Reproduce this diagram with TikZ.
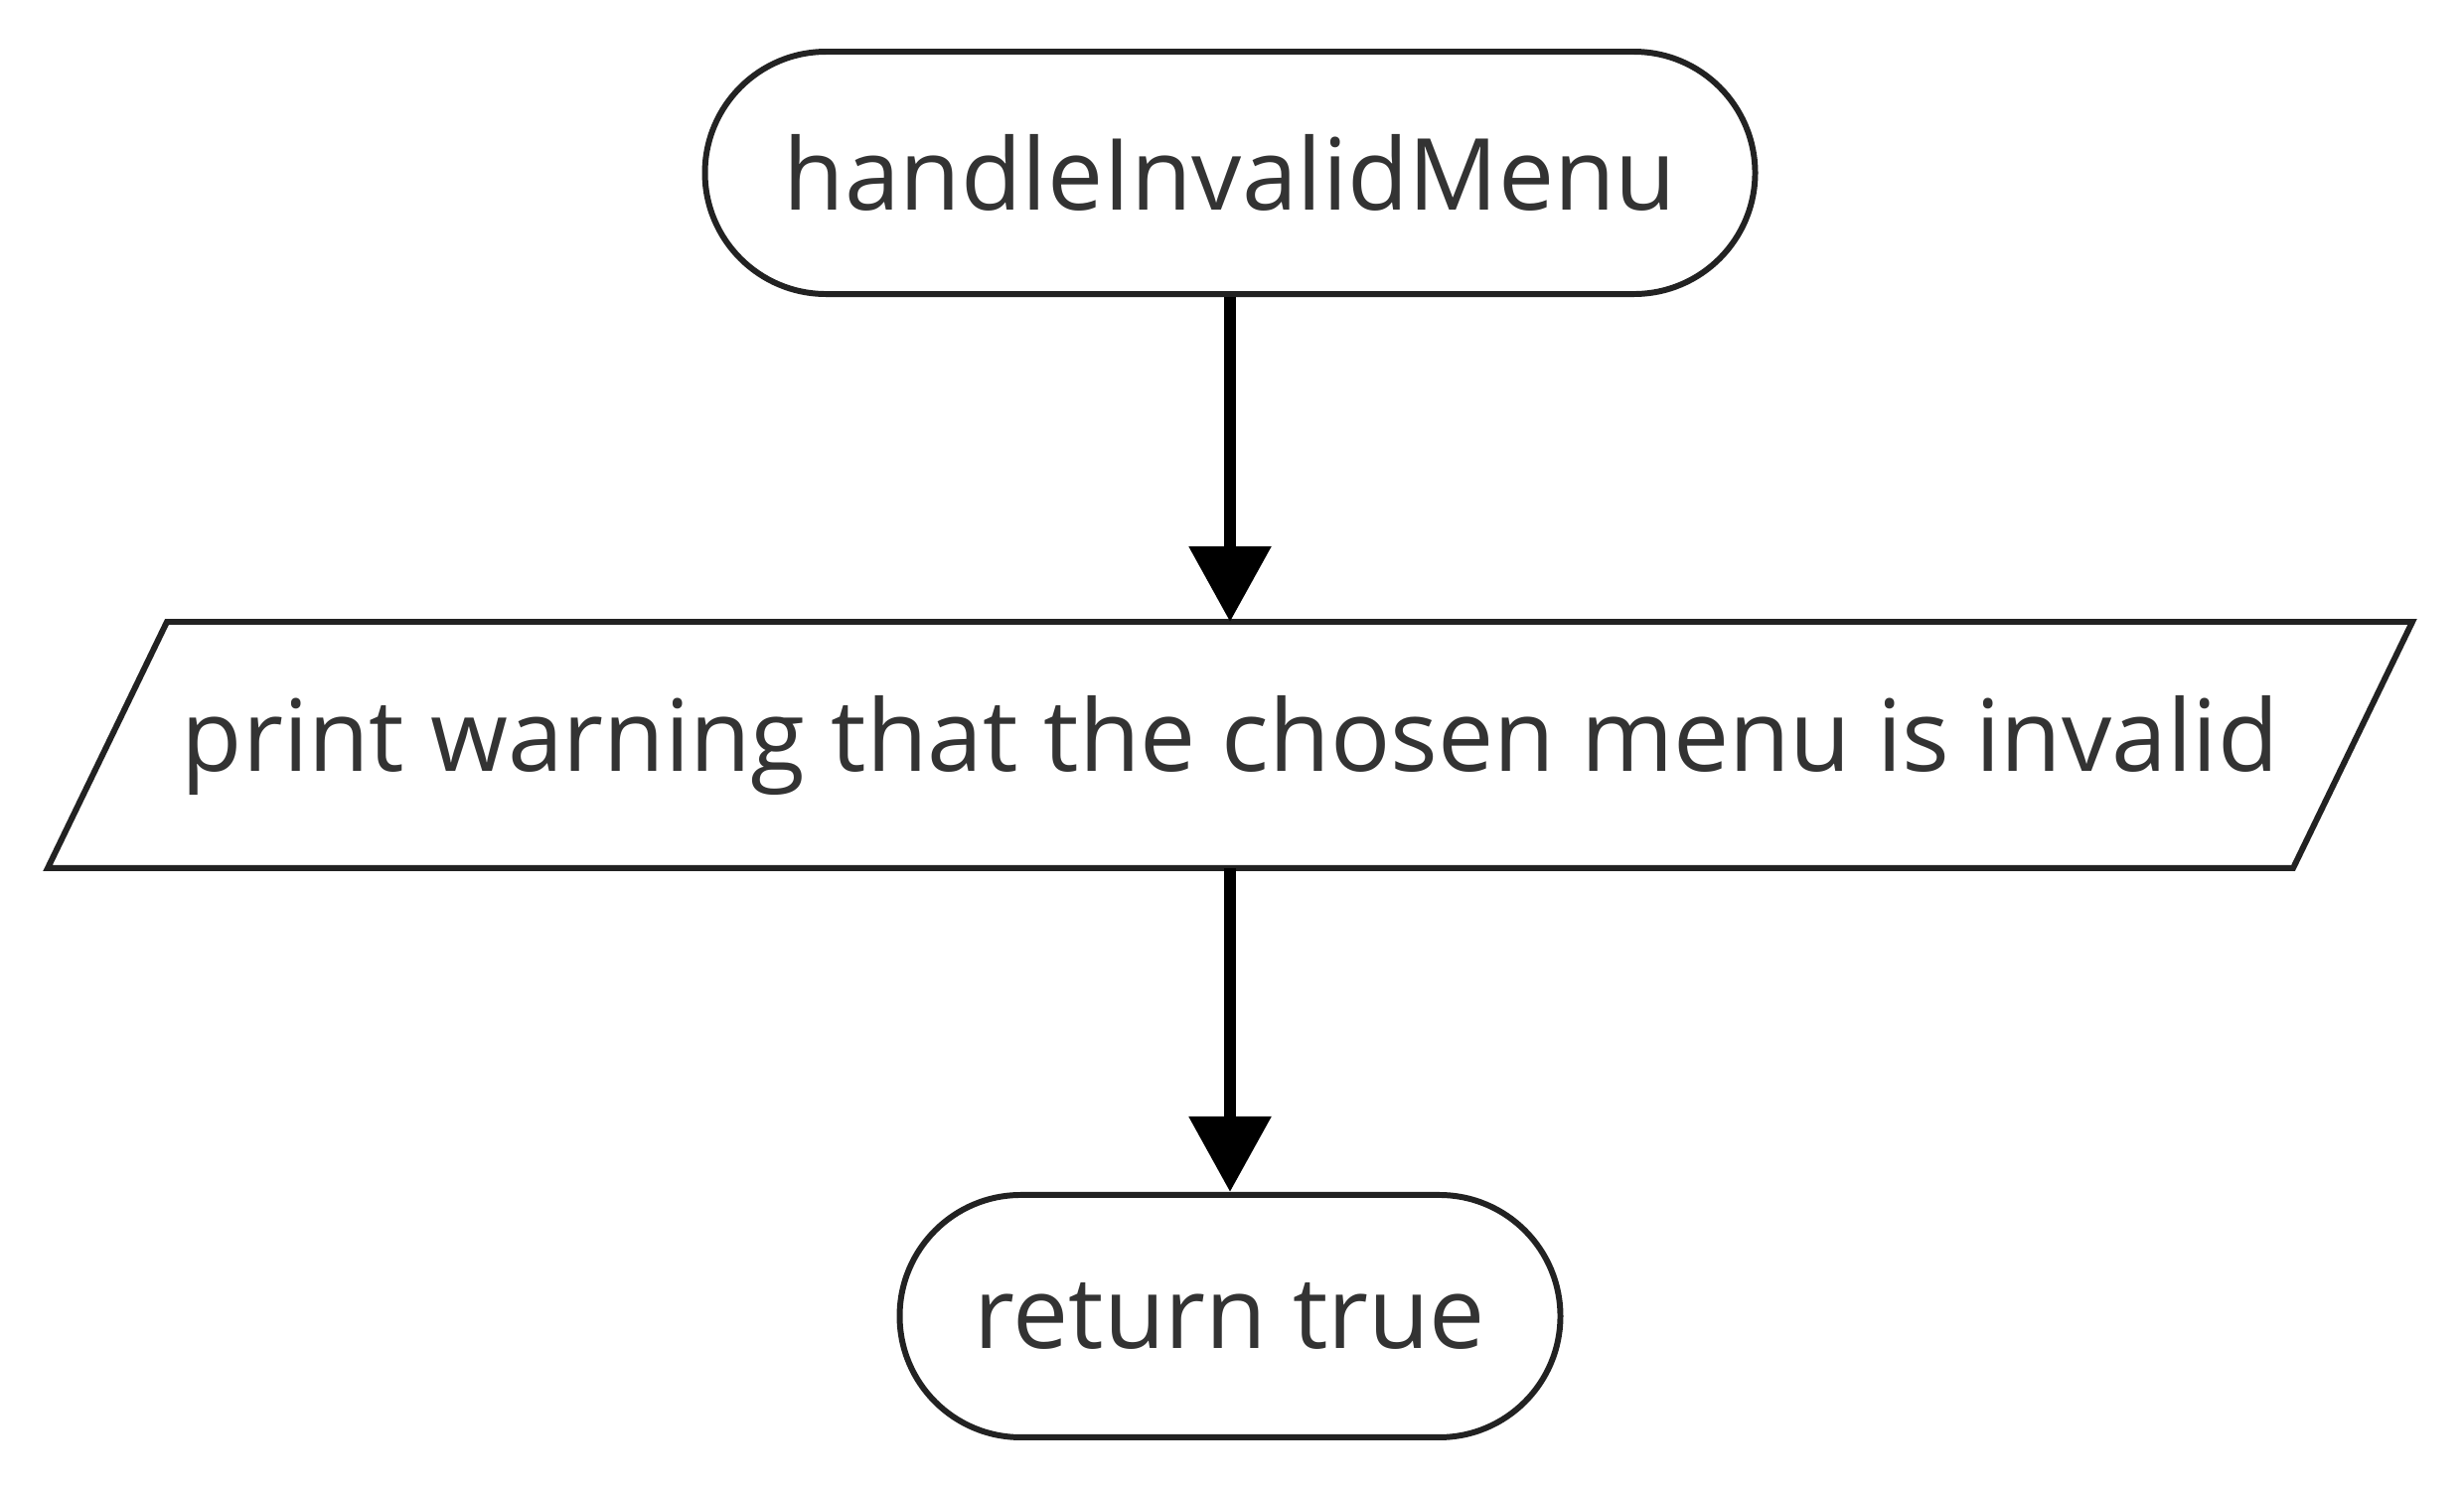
\documentclass[tikz,border=0pt]{standalone}
\usepackage{fontspec}
\setmainfont{Open Sans}
\usetikzlibrary{arrows.meta, positioning, calc}
\definecolor{ink}{HTML}{222222}
\definecolor{txt}{HTML}{333333}

\begin{document}
\begin{tikzpicture}[
      box/.style={draw=ink, line width=1.7pt, align=center, text=txt,
                  font=\fontsize{28.5}{34}\selectfont},
      term/.style={box, rounded corners=1.22cm, minimum height=2.44cm},
      io/.style={box, draw=none, minimum width=22.54cm, minimum height=2.42cm},
      arr/.style={-{Triangle[length=0.76cm, width=0.8cm]}, black, line width=3.6pt}]
    \useasboundingbox (0,0) rectangle (24.8,-15);
    \node[term, minimum width=10.57cm] at (12.38,-1.74) (start) {handleInvalidMenu};
    \node[io, below=3.27cm of start]                   (warn)  {print warning that the chosen menu is invalid};
    \node[term, minimum width=6.65cm, below=3.26cm of warn] (ret) {return true};
    % slanted outline of the output box
    \draw[ink, line width=1.7pt] ($(warn.south west)+(-0.6,0)$) -- ($(warn.north west)+(0.6,0)$)
      -- ($(warn.north east)+(0.6,0)$) -- ($(warn.south east)+(-0.6,0)$) -- cycle;
    \draw[arr](start)--(warn);\draw[arr](warn)--(ret);
  \end{tikzpicture}
\end{document}
